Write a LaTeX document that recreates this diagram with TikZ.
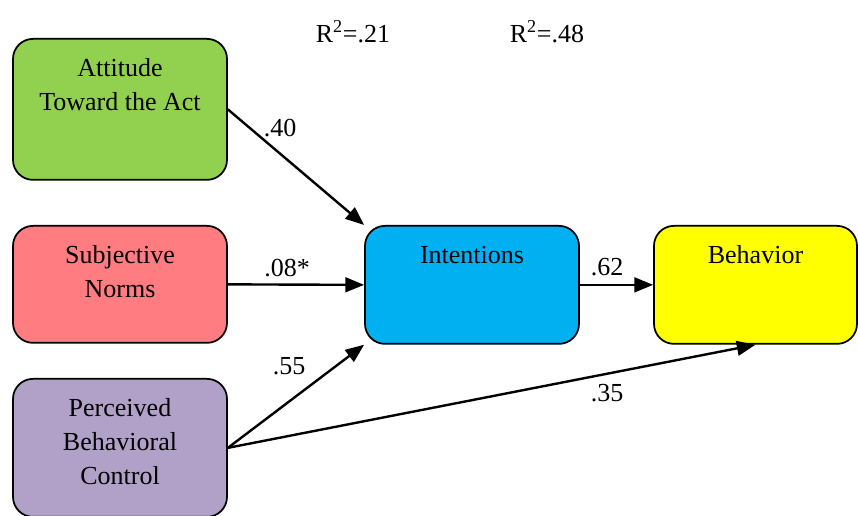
\documentclass[tikz,border=0pt]{standalone}
\usepackage{fontspec}
\setmainfont{Liberation Serif}
\usetikzlibrary{arrows.meta}
\definecolor{attgreen}{HTML}{92D050}
\definecolor{normpink}{HTML}{FF7C80}
\definecolor{pbcpurple}{HTML}{B1A0C7}
\definecolor{intblue}{HTML}{00B0F0}
\definecolor{behyellow}{HTML}{FFFF00}
\tikzset{box/.style={draw,line width=1.3pt,rounded corners=15pt,anchor=north,align=center,
  inner xsep=0pt,inner ysep=0pt,minimum width=160.5pt},
  link/.style={line width=1.8pt,-{Triangle[length=14pt,width=11pt]}}}
\begin{document}
\begin{tikzpicture}[x=0.75pt,y=-0.75pt,font=\fontsize{19.5}{25.5}\selectfont]
 \useasboundingbox (0,0) rectangle (858,516);

 \node at (120,38) [box,fill=attgreen,text height=54pt,text depth=51.75pt] (att) {Attitude\\Toward the Act};
 \node at (120,225) [box,fill=normpink,text height=54pt,text depth=33.75pt] (sub) {Subjective\\Norms};
 \node at (120,378) [box,fill=pbcpurple,text height=79.5pt,text depth=24pt] (pbc) {Perceived\\Behavioral\\Control};
 \node at (472,225) [box,fill=intblue,text height=28.5pt,text depth=60pt] (int) {Intentions};
 \node at (755.5,225) [box,fill=behyellow,text height=28.5pt,text depth=60pt,minimum width=152.25pt] (beh) {Behavior};

 \node at (353,43) [anchor=base] (r21) {R\textsuperscript{2}=.21};
 \node at (547,43) [anchor=base] (r48) {R\textsuperscript{2}=.48};

 \draw[link] (att.east)--(int.north west);
 \draw[link] (sub.east)--(int.west);
 \draw[link] (pbc.east)--(int.south west);
 \draw[link] (pbc.east)--(beh.south);
 \draw[link] (int.east)--(beh.west);

 \node at (280,128) (w40) {.40};
 \node at (287,268) (w08) {.08*};
 \node at (289,366) (w55) {.55};
 \node at (607,267) (w62) {.62};
 \node at (607,393) (w35) {.35};
\end{tikzpicture}
\end{document}
